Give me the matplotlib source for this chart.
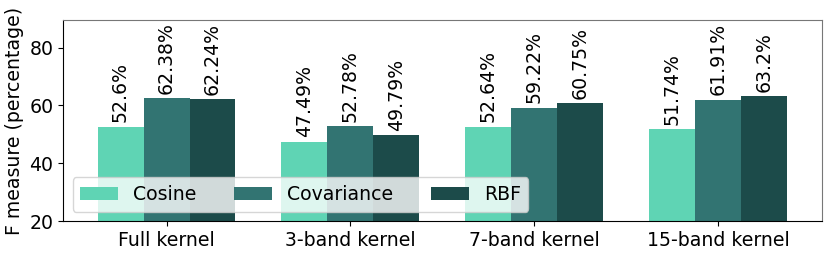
import matplotlib
matplotlib.use("Agg")
import matplotlib.pyplot as plt
import numpy as np

matplotlib.rcParams.update({'font.size': 13.6})

kernels = ["Full kernel", "3-band kernel", "7-band kernel", "15-band kernel"]
methods = ["Cosine", "Covariance", "RBF"]
cosine = [52.6, 47.49, 52.64, 51.74]
covariance = [62.38, 52.78, 59.22, 61.91]
rbf = [62.24, 49.79, 60.75, 63.2]
labels = [
    ["52.6%", "47.49%", "52.64%", "51.74%"],
    ["62.38%", "52.78%", "59.22%", "61.91%"],
    ["62.24%", "49.79%", "60.75%", "63.2%"],
]

colors = ["#5fd4b4", "#327472", "#1c4b4a"]

fig, ax = plt.subplots(figsize=(8.3, 2.57), dpi=100)
x = np.arange(len(kernels))
width = 0.25

for i, (vals, name) in enumerate(zip([cosine, covariance, rbf], methods)):
    bars = ax.bar(x + (i - 1) * width, vals, width, color=colors[i], label=name)
    for b, txt in zip(bars, labels[i]):
        ax.text(b.get_x() + b.get_width() / 2, b.get_height() + 1.5, txt,
                rotation=90, ha="center", va="bottom")

ax.set_ylim(20, 89.5)
ax.set_yticks([20, 40, 60, 80])
ax.set_xticks(x)
ax.set_xticklabels(kernels)
ax.set_ylabel("F measure (percentage)")
ax.spines["top"].set_color("#777777")
ax.spines["right"].set_color("#777777")
ax.legend(ncol=3, loc="lower left", framealpha=0.8)

plt.subplots_adjust(left=0.076, right=0.99, top=0.922, bottom=0.14)
plt.savefig("out.png")
